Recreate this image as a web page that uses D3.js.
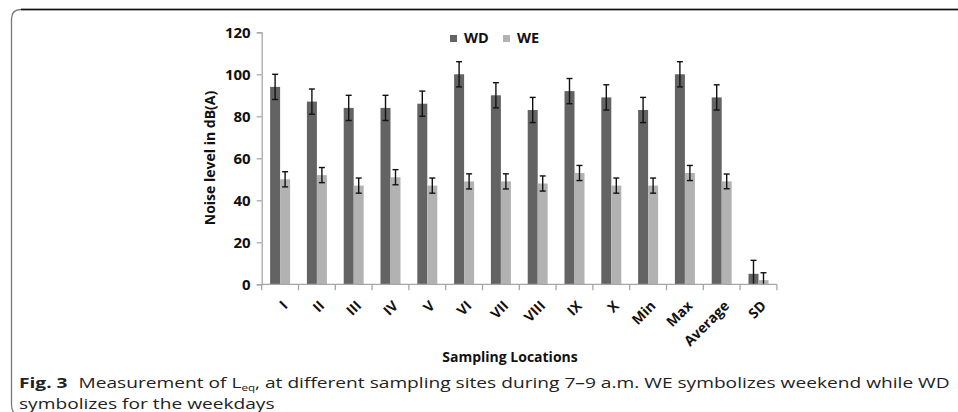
<!DOCTYPE html>
<html>
<head>
<meta charset="utf-8">
<script src="https://cdn.jsdelivr.net/npm/d3@7"></script>
<style>
  html, body { margin: 0; padding: 0; background: #fff; }
  svg { display: block; }
</style>
</head>
<body>
<script>
// データ
const categories = ["I", "II", "III", "IV", "V", "VI", "VII", "VIII", "IX", "X", "Min", "Max", "Average", "SD"];
const series = ["WD", "WE"];
const wdValues = [94, 87, 84, 84, 86, 100, 90, 83, 92, 89, 83, 100, 89, 5];
const weValues = [50, 52, 47, 51, 47, 49, 49, 48, 53, 47, 47, 53, 49, 2];
const wdErrors = [6, 6, 6, 6, 6, 6, 6, 6, 6, 6, 6, 6, 6, 6.4];
const weErrors = [3.6, 3.6, 3.6, 3.6, 3.6, 3.6, 3.6, 3.6, 3.6, 3.6, 3.6, 3.6, 3.5, 3.5];
const yTicks = [0, 20, 40, 60, 80, 100, 120];

const width = 958, height = 412;
const colors = { WD: "#636363", WE: "#b2b2b2" };
const chartFont = "'Open Sans', 'DejaVu Sans', sans-serif";

const svg = d3.select("body").append("svg")
  .attr("width", width)
  .attr("height", height)
  .style("font-family", chartFont);

// 枠線
svg.append("path")
  .attr("d", "M958,9.5 H21 Q11.5,9.5 11.5,19 V404 Q11.5,412 16,414")
  .attr("fill", "none")
  .attr("stroke", "#777")
  .attr("stroke-width", 1.3);
svg.append("line")
  .attr("x1", 21).attr("x2", 958).attr("y1", 9.5).attr("y2", 9.5)
  .attr("stroke", "#111").attr("stroke-width", 1.6);

// スケール
const x = d3.scaleBand().domain(categories).range([261.7, 776.9]);
const x1 = d3.scaleBand().domain(series).range([0, x.bandwidth()]).paddingOuter(0.84);
const y = d3.scaleLinear().domain([0, 120]).range([284.3, 32.3]);

// Y軸
const yAxis = svg.append("g")
  .attr("transform", `translate(${x.range()[0]},0)`)
  .call(d3.axisLeft(y).tickValues(yTicks).tickSize(5).tickPadding(6));
yAxis.select(".domain").attr("stroke", "#a6a6a6").attr("stroke-width", 1.3);
yAxis.selectAll(".tick line").attr("stroke", "#a6a6a6").attr("stroke-width", 1.3);
yAxis.selectAll(".tick text")
  .attr("font-family", chartFont)
  .attr("font-size", 15)
  .attr("font-weight", "bold")
  .attr("fill", "#111");

// バー
const rows = categories.map((c, i) => ({
  cat: c,
  vals: [
    { s: "WD", v: wdValues[i], e: wdErrors[i] },
    { s: "WE", v: weValues[i], e: weErrors[i] }
  ]
}));

const groups = svg.append("g").selectAll("g")
  .data(rows).join("g")
  .attr("transform", d => `translate(${x(d.cat)},0)`);

groups.selectAll("rect")
  .data(d => d.vals).join("rect")
  .attr("x", d => x1(d.s))
  .attr("y", d => y(d.v))
  .attr("width", x1.bandwidth())
  .attr("height", d => y(0) - y(d.v))
  .attr("fill", d => colors[d.s]);

// エラーバー
const err = groups.selectAll("g.err")
  .data(d => d.vals).join("g").attr("class", "err")
  .attr("stroke", "#111").attr("stroke-width", 1.4);
err.append("line")
  .attr("x1", d => x1(d.s) + x1.bandwidth() / 2)
  .attr("x2", d => x1(d.s) + x1.bandwidth() / 2)
  .attr("y1", d => y(d.v + d.e))
  .attr("y2", d => y(Math.max(0, d.v - d.e)));
err.append("line")
  .attr("x1", d => x1(d.s) + x1.bandwidth() / 2 - 3)
  .attr("x2", d => x1(d.s) + x1.bandwidth() / 2 + 3)
  .attr("y1", d => y(d.v + d.e))
  .attr("y2", d => y(d.v + d.e));
err.filter(d => d.v - d.e > 0).append("line")
  .attr("x1", d => x1(d.s) + x1.bandwidth() / 2 - 3)
  .attr("x2", d => x1(d.s) + x1.bandwidth() / 2 + 3)
  .attr("y1", d => y(d.v - d.e))
  .attr("y2", d => y(d.v - d.e));

// X軸
const xAxis = svg.append("g").attr("transform", `translate(0,${y(0)})`);
xAxis.append("line")
  .attr("x1", x.range()[0]).attr("x2", x.range()[1])
  .attr("stroke", "#a6a6a6").attr("stroke-width", 1.3);
xAxis.selectAll("line.tk")
  .data(categories.map(c => x(c)).concat([x.range()[1]]))
  .join("line").attr("class", "tk")
  .attr("x1", d => d).attr("x2", d => d)
  .attr("y1", 0).attr("y2", 6)
  .attr("stroke", "#a6a6a6").attr("stroke-width", 1.3);
xAxis.selectAll("text")
  .data(categories).join("text")
  .attr("transform", d => `translate(${x(d) + x.bandwidth() / 2 + 5},${19}) rotate(-45)`)
  .attr("text-anchor", "end")
  .attr("dy", "0.35em")
  .attr("font-size", 14)
  .attr("font-weight", "bold")
  .attr("fill", "#111")
  .text(d => d);

// 軸タイトル
svg.append("text")
  .attr("x", 510).attr("y", 362)
  .attr("text-anchor", "middle")
  .attr("font-size", 14)
  .attr("font-weight", "bold")
  .attr("fill", "#111")
  .text("Sampling Locations");

svg.append("text")
  .attr("transform", "translate(215,158) rotate(-90)")
  .attr("text-anchor", "middle")
  .attr("font-size", 14)
  .attr("font-weight", "bold")
  .attr("fill", "#111")
  .text("Noise level in dB(A)");

// 凡例
const legend = svg.append("g").selectAll("g")
  .data(series).join("g")
  .attr("transform", (d, i) => `translate(${450 + i * 53},35)`);
legend.append("rect")
  .attr("width", 7).attr("height", 7)
  .attr("fill", d => colors[d]);
legend.append("text")
  .attr("x", 14).attr("y", 8)
  .attr("font-size", 14.5)
  .attr("font-weight", "bold")
  .attr("fill", "#111")
  .text(d => d);

// キャプション（幅を合わせるため横方向に縮める）
const capFont = "'Open Sans', 'Noto Sans', sans-serif";
const cap1 = svg.append("text")
  .attr("font-family", capFont)
  .attr("font-size", 14)
  .attr("fill", "#222");
cap1.append("tspan").attr("font-weight", "bold").text("Fig. 3");
cap1.append("tspan").attr("dx", 8).text("Measurement of L");
cap1.append("tspan").attr("font-size", 8.5).attr("dy", 2.5).text("eq");
cap1.append("tspan").attr("dy", -2.5).text(", at different sampling sites during 7–9 a.m. WE symbolizes weekend while WD");
const w1 = cap1.node().getComputedTextLength();
const k = 920 / w1;
cap1.attr("transform", `translate(19,388) scale(${k},1)`);

svg.append("text")
  .attr("font-family", capFont)
  .attr("font-size", 14)
  .attr("fill", "#222")
  .attr("transform", `translate(19,409) scale(${k},1)`)
  .text("symbolizes for the weekdays");
</script>
</body>
</html>
